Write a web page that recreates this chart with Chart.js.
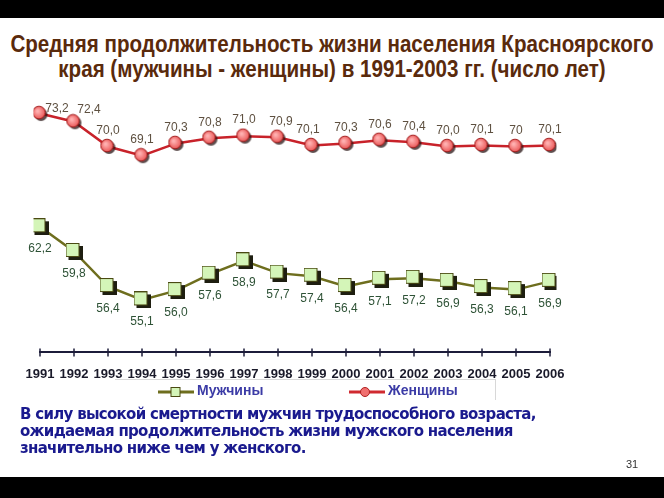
<!DOCTYPE html>
<html>
<head>
<meta charset="utf-8">
<script src="https://cdn.jsdelivr.net/npm/chart.js@4/dist/chart.umd.min.js"></script>
<style>
  body { margin: 0; background: #fff; }
  .slide { position: relative; width: 664px; height: 498px; overflow: hidden; background: #fff; }
  .bar-top { position: absolute; left: 0; top: 0; width: 664px; height: 18px; background: #000; }
  .bar-bottom { position: absolute; left: 0; top: 477px; width: 664px; height: 21px; background: #000; }
  .title {
    position: absolute; left: -200px; top: 32px; width: 1064px; text-align: center; white-space: nowrap;
    font-family: "Liberation Sans", sans-serif;
    font-weight: bold; font-size: 23px; line-height: 25px; color: #5a2a0c;
    transform: scaleX(0.895); transform-origin: 532px 0;
  }
  .chart-box { position: absolute; left: 0; top: 0; width: 664px; height: 398px; }
  .legend {
    position: absolute; left: 115px; top: 379px; width: 380px; height: 20px;
    border-top: 1px solid #d8d8d8; border-right: 1px solid #d8d8d8;
  }
  .legend-item {
    position: absolute; top: 1px; font-family: "Liberation Sans", Arial, sans-serif;
    font-weight: bold; font-size: 14px; color: #3b3ba6; line-height: 18px;
  }
  .legend-item svg { vertical-align: -3px; margin-right: 3px; }
  .note {
    position: absolute; left: 20px; top: 406px; width: 620px;
    font-family: "DejaVu Sans", sans-serif; font-weight: bold; font-size: 15px;
    line-height: 17px; color: #1a1a8e; letter-spacing: -0.7px;
  }
  .page { position: absolute; left: 626px; top: 458px; font-family: "Liberation Sans", Arial, sans-serif; font-size: 11px; color: #333; }
</style>
</head>
<body>
<div class="slide">
  <div class="bar-top"></div>
  <div class="title">Средняя продолжительность жизни населения Красноярского<br>края (мужчины - женщины) в 1991-2003 гг. (число лет)</div>
  <div class="chart-box"><canvas id="chart" width="664" height="398"></canvas></div>
  <div class="legend">
    <div class="legend-item" style="left:43px">
      <svg width="36" height="12"><line x1="0" y1="6" x2="36" y2="6" stroke="#6e6e1e" stroke-width="3"/><rect x="13" y="1.5" width="9" height="9" fill="#d4f5b8" stroke="#4a4a12" stroke-width="1"/></svg>Мужчины
    </div>
    <div class="legend-item" style="left:234px">
      <svg width="36" height="12"><line x1="0" y1="6" x2="36" y2="6" stroke="#d02a30" stroke-width="3"/><circle cx="16" cy="6" r="4.5" fill="#f07070" stroke="#b02020" stroke-width="1"/></svg>Женщины
    </div>
  </div>
  <div class="note">В силу высокой смертности мужчин трудоспособного возраста,<br>ожидаемая продолжительность жизни мужского населения<br>значительно ниже чем у женского.</div>
  <div class="page">31</div>
  <div class="bar-bottom"></div>
</div>
<script>
const years = ["1991", "1992", "1993", "1994", "1995", "1996", "1997", "1998",
  "1999", "2000", "2001", "2002", "2003", "2004", "2005", "2006"];
const men = [62.2, 59.8, 56.4, 55.1, 56.0, 57.6, 58.9, 57.7, 57.4, 56.4, 57.1, 57.2, 56.9, 56.3, 56.1, 56.9];
const women = [73.2, 72.4, 70.0, 69.1, 70.3, 70.8, 71.0, 70.9, 70.1, 70.3, 70.6, 70.4, 70.0, 70.1, 70, 70.1];
const womenLabels = ["73,2", "72,4", "70,0", "69,1", "70,3", "70,8", "71,0", "70,9",
  "70,1", "70,3", "70,6", "70,4", "70,0", "70,1", "70", "70,1"];
const menLabels = men.map((v) => v.toFixed(1).replace(".", ","));

// marker images with a small drop shadow, like the original slide
function makeCircle() {
  const c = document.createElement("canvas");
  c.width = 17; c.height = 17;
  const ctx = c.getContext("2d");
  ctx.fillStyle = "rgba(40,20,20,0.75)";
  ctx.beginPath(); ctx.arc(9.5, 9.5, 6.5, 0, Math.PI * 2); ctx.fill();
  const g = ctx.createRadialGradient(6, 6, 1, 7.5, 7.5, 7);
  g.addColorStop(0, "#ffb0b0");
  g.addColorStop(1, "#e85050");
  ctx.fillStyle = g;
  ctx.beginPath(); ctx.arc(7.5, 7.5, 6.3, 0, Math.PI * 2); ctx.fill();
  ctx.strokeStyle = "#a01818"; ctx.lineWidth = 1; ctx.stroke();
  return c;
}
function makeSquare() {
  const c = document.createElement("canvas");
  c.width = 17; c.height = 17;
  const ctx = c.getContext("2d");
  ctx.fillStyle = "#1e1e10";
  ctx.fillRect(3, 3, 14, 14);
  ctx.fillStyle = "#d4f5b8";
  ctx.fillRect(0.5, 0.5, 13, 13);
  ctx.strokeStyle = "#4a4a12"; ctx.lineWidth = 1;
  ctx.strokeRect(0.5, 0.5, 13, 13);
  return c;
}

const valueLabels = {
  id: "valueLabels",
  afterDatasetsDraw(chart) {
    const ctx = chart.ctx;
    ctx.save();
    ctx.font = "12px 'Liberation Sans', Arial, sans-serif";
    ctx.textAlign = "center";
    ctx.textBaseline = "middle";
    chart.data.datasets.forEach((ds, di) => {
      const meta = chart.getDatasetMeta(di);
      meta.data.forEach((pt, i) => {
        const shift = (ds.labelShift && ds.labelShift[i]) || { dx: 0, dy: ds.labelDy };
        ctx.fillStyle = ds.labelColor;
        ctx.fillText(ds.texts[i], pt.x + shift.dx, pt.y + shift.dy);
      });
    });
    ctx.restore();
  },
};

const crossTicks = {
  id: "crossTicks",
  afterDraw(chart) {
    const x = chart.scales.x;
    const ctx = chart.ctx;
    const y = chart.chartArea.bottom;
    ctx.save();
    ctx.strokeStyle = "#1c1c3a";
    ctx.lineWidth = 1.5;
    x.ticks.forEach((t, i) => {
      const px = x.getPixelForTick(i);
      ctx.beginPath();
      ctx.moveTo(px, y - 4);
      ctx.lineTo(px, y + 4);
      ctx.stroke();
    });
    ctx.restore();
  },
};

new Chart(document.getElementById("chart"), {
  type: "line",
  data: {
    labels: years,
    datasets: [
      {
        label: "Женщины",
        data: women,
        texts: womenLabels,
        labelColor: "#5e5040",
        labelDy: -16,
        labelShift: { 0: { dx: 17, dy: -5 }, 1: { dx: 15, dy: -12 }, 7: { dx: 3, dy: -16 }, 8: { dx: -4, dy: -16 } },
        borderColor: "#c8222a",
        borderWidth: 2.5,
        pointStyle: makeCircle(),
        tension: 0,
      },
      {
        label: "Мужчины",
        data: men,
        texts: menLabels,
        labelColor: "#2e5236",
        labelDy: 22,
        borderColor: "#6e6e1e",
        borderWidth: 2.5,
        pointStyle: makeSquare(),
        tension: 0,
      },
    ],
  },
  options: {
    responsive: false,
    animation: false,
    layout: { padding: { left: 40, right: 114, top: 95, bottom: 2 } },
    plugins: { legend: { display: false }, tooltip: { enabled: false } },
    scales: {
      x: {
        offset: false,
        grid: { drawOnChartArea: false, drawTicks: false },
        border: { color: "#1c1c3a", width: 2 },
        ticks: {
          padding: 14,
          maxRotation: 0,
          autoSkip: false,
          color: "#1a1a2a",
          font: { family: "'Liberation Sans', Arial, sans-serif", size: 13, weight: "bold" },
        },
      },
      y: { display: false, min: 50, max: 75 },
    },
  },
  plugins: [valueLabels, crossTicks],
});
</script>
</body>
</html>
